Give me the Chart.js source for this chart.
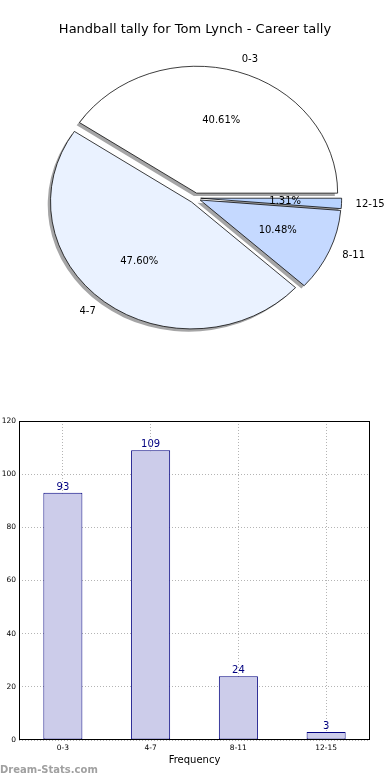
<!DOCTYPE html>
<html>
<head>
<meta charset="utf-8">
<title>Handball tally for Tom Lynch</title>
<script src="https://cdn.jsdelivr.net/npm/chart.js@4.4.1/dist/chart.umd.min.js"></script>
<style>
  html, body { margin: 0; padding: 0; background: #fff; }
  body { width: 390px; height: 780px; position: relative; overflow: hidden; }
  #pieBox { position: absolute; left: 0; top: 0; width: 390px; height: 400px; }
  #barBox { position: absolute; left: 0; top: 400px; width: 390px; height: 380px; }
  .brand { position: absolute; left: 0; top: 764px; font: bold 10px "DejaVu Sans", sans-serif; color: #a0a0a0; }
</style>
</head>
<body>
<div id="pieBox"><canvas id="pieChart"></canvas></div>
<div id="barBox"><canvas id="barChart"></canvas></div>
<div class="brand">Dream-Stats.com</div>
<script>
var categories = ["0-3", "4-7", "8-11", "12-15"];
var frequency = [93, 109, 24, 3];
var yTicks = [0, 20, 40, 60, 80, 100, 120];
var chartTitle = "Handball tally for Tom Lynch - Career tally";
var xTitle = "Frequency";

// styles
var pieColors = ["#ffffff", "#eaf2ff", "#c5d9ff", "#b8d3ff"];
var explode = 0.04;   // fraction of radius, like matplotlib
var ySquash = 0.9;    // pie is drawn slightly flattened

Chart.defaults.font.family = '"DejaVu Sans", sans-serif';
Chart.defaults.color = '#000';

// matplotlib goes counter-clockwise from 3 o'clock, chart.js clockwise: reverse
var pieOrder = categories.map(function (c, i) { return i; }).reverse();

var pieShape = {
  id: 'pieShape',
  afterUpdate: function (chart) {
    // push every wedge out along its middle angle
    chart.getDatasetMeta(0).data.forEach(function (arc) {
      var mid = (arc.startAngle + arc.endAngle) / 2;
      var t = explode * arc.outerRadius;
      arc.x += Math.cos(mid) * t;
      arc.y += Math.sin(mid) * t;
    });
  },
  beforeDatasetsDraw: function (chart) {
    var ctx = chart.ctx;
    var a = chart.chartArea;
    var cy = (a.top + a.bottom) / 2;
    var arcs = chart.getDatasetMeta(0).data;
    ctx.save();
    ctx.translate(0, cy);
    ctx.scale(1, ySquash);
    ctx.translate(0, -cy);
    // shadows under every wedge
    ctx.save();
    ctx.translate(-2.8, 2.8 / ySquash);
    arcs.forEach(function (arc) {
      var orig = arc.options;
      arc.options = Object.assign({}, orig, { backgroundColor: 'rgba(76,76,78,0.5)', borderWidth: 0 });
      arc.draw(ctx);
      arc.options = orig;
    });
    ctx.restore();
  },
  afterDatasetsDraw: function (chart) {
    chart.ctx.restore();
  },
  afterDraw: function (chart) {
    var ctx = chart.ctx;
    var a = chart.chartArea;
    var cy = (a.top + a.bottom) / 2;
    var ds = chart.data.datasets[0];
    var total = ds.data.reduce(function (p, q) { return p + q; }, 0);
    chart.getDatasetMeta(0).data.forEach(function (arc, i) {
      var mid = (arc.startAngle + arc.endAngle) / 2;
      var r = arc.outerRadius;
      var cos = Math.cos(mid), sin = Math.sin(mid);
      var ay = cy + (arc.y - cy) * ySquash;
      ctx.save();
      ctx.fillStyle = '#000';
      ctx.font = '10px "DejaVu Sans"';
      ctx.textBaseline = 'middle';
      ctx.textAlign = cos > 0 ? 'left' : 'right';
      ctx.fillText(chart.data.labels[i], arc.x + cos * 1.1 * r, ay + sin * 1.1 * r * ySquash);
      ctx.textAlign = 'center';
      ctx.fillText((ds.data[i] / total * 100).toFixed(2) + '%', arc.x + cos * 0.6 * r, ay + sin * 0.6 * r * ySquash);
      ctx.restore();
    });
  }
};

new Chart(document.getElementById('pieChart'), {
  type: 'pie',
  data: {
    labels: pieOrder.map(function (i) { return categories[i]; }),
    datasets: [{
      data: pieOrder.map(function (i) { return frequency[i]; }),
      backgroundColor: pieOrder.map(function (i) { return pieColors[i]; }),
      borderColor: '#000',
      borderWidth: 0.8,
      radius: 141,
      clip: false
    }]
  },
  options: {
    responsive: true,
    maintainAspectRatio: false,
    animation: false,
    events: [],
    rotation: 90,
    layout: { padding: { top: 0, bottom: 41.6 } },
    plugins: {
      legend: { display: false },
      tooltip: { enabled: false },
      title: {
        display: true,
        text: chartTitle,
        color: '#000',
        font: { size: 13, weight: 'normal' },
        padding: { top: 22, bottom: 0 }
      }
    }
  },
  plugins: [pieShape]
});

var barExtras = {
  id: 'barExtras',
  afterDatasetsDraw: function (chart) {
    var ctx = chart.ctx;
    ctx.save();
    ctx.fillStyle = '#000080';
    ctx.font = '10px "DejaVu Sans"';
    ctx.textAlign = 'center';
    ctx.textBaseline = 'alphabetic';
    chart.getDatasetMeta(0).data.forEach(function (bar, i) {
      ctx.fillText(String(frequency[i]), bar.x, bar.y - 3);
    });
    ctx.restore();
  },
  afterDraw: function (chart) {
    var a = chart.chartArea, ctx = chart.ctx;
    ctx.save();
    ctx.strokeStyle = '#000';
    ctx.lineWidth = 1;
    ctx.strokeRect(Math.round(a.left) + 0.5, Math.round(a.top) + 0.5,
      Math.round(a.right - a.left) - 1, Math.round(a.bottom - a.top) - 1);
    ctx.restore();
  }
};

new Chart(document.getElementById('barChart'), {
  type: 'bar',
  data: {
    labels: categories,
    datasets: [{
      data: frequency,
      backgroundColor: '#ccccea',
      borderColor: '#000080',
      borderWidth: 1,
      borderSkipped: false,
      categoryPercentage: 1,
      barPercentage: 0.445
    }]
  },
  options: {
    responsive: true,
    maintainAspectRatio: false,
    animation: false,
    events: [],
    layout: { padding: { top: 21, right: 20, left: 0, bottom: 0 } },
    plugins: { legend: { display: false }, tooltip: { enabled: false } },
    scales: {
      x: {
        z: 1,
        grid: { offset: false, color: '#b4b4b4', drawTicks: false },
        border: { display: false, dash: [1, 2] },
        ticks: { font: { size: 7.5 }, padding: 4, autoSkip: false },
        title: { display: true, text: xTitle, font: { size: 10 }, padding: { top: 0, bottom: 14 } },
        afterFit: function (s) { s.height = 40; }
      },
      y: {
        z: 1,
        min: yTicks[0],
        max: yTicks[yTicks.length - 1],
        grid: { color: '#b4b4b4', drawTicks: false },
        border: { display: false, dash: [1, 2] },
        ticks: { stepSize: yTicks[1] - yTicks[0], font: { size: 7.5 }, padding: 3 },
        afterFit: function (s) { s.width = 19; }
      }
    }
  },
  plugins: [barExtras]
});
</script>
</body>
</html>
